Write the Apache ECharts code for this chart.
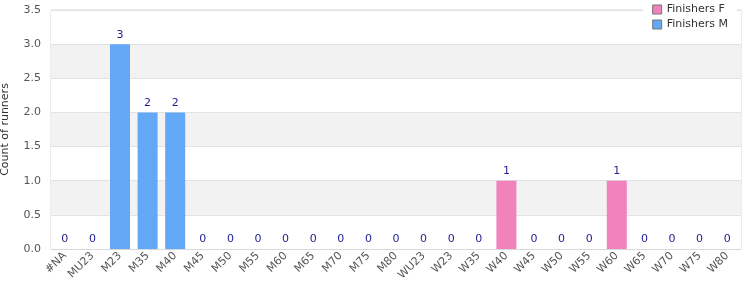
<!DOCTYPE html>
<html><head><meta charset="utf-8">
<script src="https://cdn.jsdelivr.net/npm/echarts@6/dist/echarts.min.js"></script>
<style>html,body{margin:0;padding:0;background:#fff}#c{width:750px;height:300px}</style>
</head><body><div id="c"></div>
<script>
const categories = ['#NA','MU23','M23','M35','M40','M45','M50','M55','M60','M65','M70','M75','M80','WU23','W23','W35','W40','W45','W50','W55','W60','W65','W70','W75','W80'];
const finishersF = [null,null,null,null,null,null,null,null,null,null,null,null,null,0,0,0,1,0,0,0,1,0,0,0,0];
const finishersM = [0,0,3,2,2,0,0,0,0,0,0,0,0,null,null,null,null,null,null,null,null,null,null,null,null];
const yTicks = [0,0.5,1,1.5,2,2.5,3,3.5];

const font = 'DejaVu Sans';
const chart = echarts.init(document.getElementById('c'), null, {renderer:'canvas'});
const lbl = {show:true, position:'top', distance:4, color:'#1f1f8f', fontFamily:font, fontSize:11};
chart.setOption({
  animation:false,
  textStyle:{fontFamily:font},
  grid:{left:51, right:9, top:10, bottom:51, containLabel:false, outerBoundsMode:'none',
        show:true, borderColor:'#d9d9d9', borderWidth:1, backgroundColor:'transparent'},
  legend:{
    orient:'vertical', right:13, top:2, itemWidth:9, itemHeight:9, itemGap:4, icon:'rect',
    backgroundColor:'#fff', padding:[2,9,4,9],
    textStyle:{fontFamily:font, fontSize:11, color:'#333'},
    data:['Finishers F','Finishers M'],
    itemStyle:{borderColor:'#777', borderWidth:1}
  },
  xAxis:{
    type:'category', data:categories,
    axisLine:{show:true, lineStyle:{color:'#d9d9d9'}},
    axisTick:{show:false},
    axisLabel:{rotate:45, interval:0, hideOverlap:false, color:'#555', fontSize:11, fontFamily:font, margin:5}
  },
  yAxis:{
    type:'value', min:0, max:3.5, interval:0.5,
    name:'Count of runners', nameLocation:'middle', nameGap:40,
    nameTextStyle:{color:'#333', fontSize:11, fontFamily:font},
    axisLine:{show:false}, axisTick:{show:false},
    axisLabel:{color:'#555', fontSize:11, fontFamily:font, formatter:v=>v.toFixed(1), margin:10},
    splitLine:{lineStyle:{color:'#e2e2e2'}},
    splitArea:{show:true, areaStyle:{color:['#ffffff','#f2f2f2']}}
  },
  series:[
    {name:'Finishers F', type:'bar', stack:'a', data:finishersF, barWidth:20,
     itemStyle:{color:'#f282bc', borderWidth:0}, label:lbl},
    {name:'Finishers M', type:'bar', stack:'a', data:finishersM, barWidth:20,
     itemStyle:{color:'#62a8f5', borderWidth:0}, label:lbl}
  ]
});
</script></body></html>
